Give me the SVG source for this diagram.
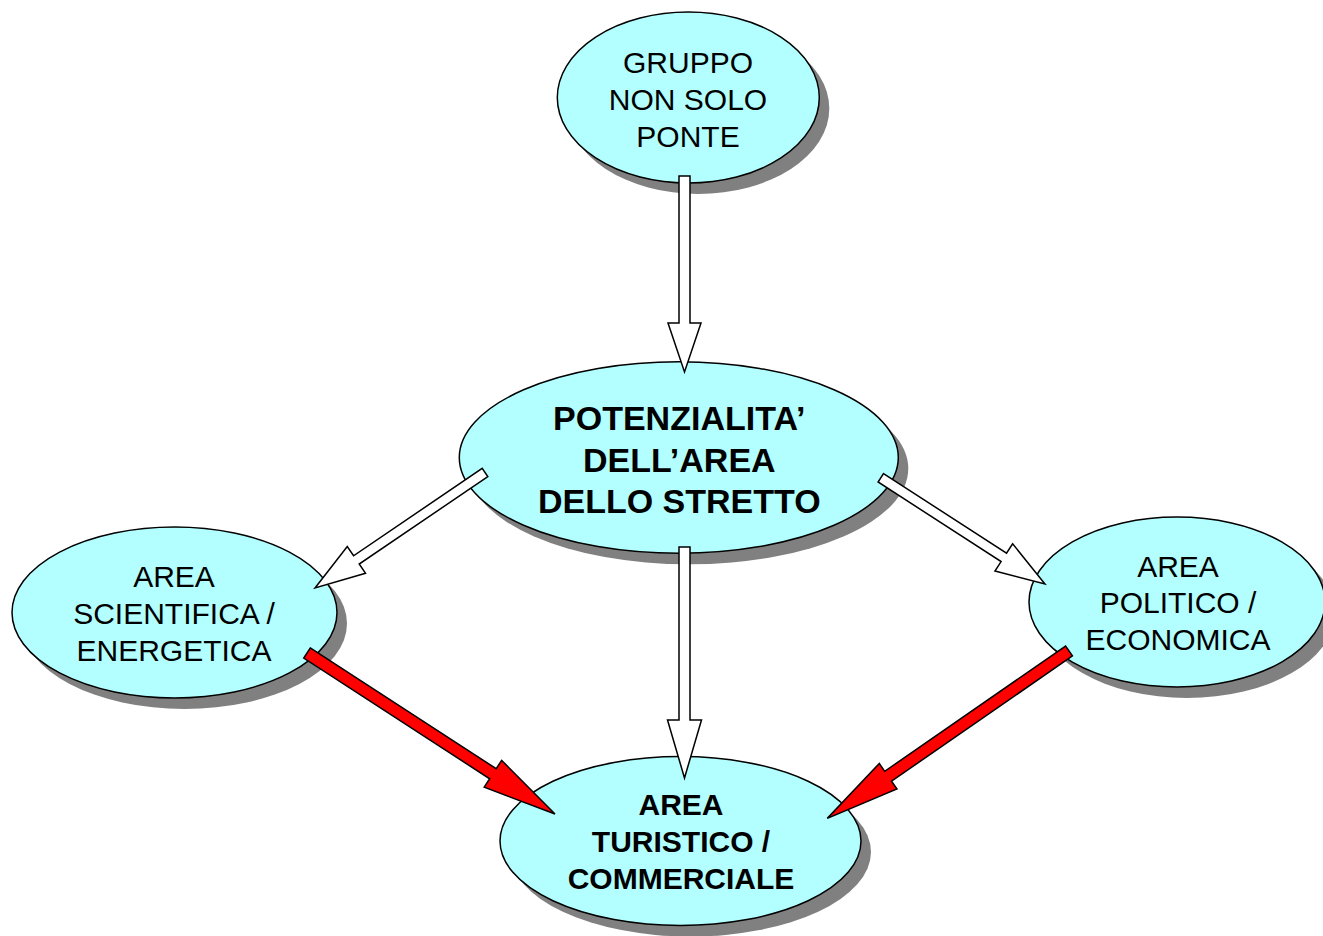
<svg xmlns="http://www.w3.org/2000/svg" width="1323" height="936" viewBox="0 0 1323 936">
<defs>
<style>
.shadow{fill:#808080;stroke:none}
.node{fill:#B3FFFF;stroke:#000;stroke-width:1.5}
.t{font-family:"Liberation Sans",Arial,sans-serif;font-size:30px;fill:#000;text-anchor:middle}
.b{font-weight:bold}
.hollow{fill:#fff;stroke:#000;stroke-width:1.5;stroke-linejoin:miter}
.red{fill:#f00;stroke:#000;stroke-width:1.5;stroke-linejoin:miter}
</style>
</defs>
<rect width="1323" height="936" fill="#fff"/>
<g id="node-gruppo">
<ellipse class="shadow" cx="698.3" cy="108.5" rx="131" ry="85.5"/>
<ellipse class="node" cx="688.3" cy="97.5" rx="131" ry="85.5"/>
<text class="t" x="688" y="73">GRUPPO</text>
<text class="t" x="688" y="110">NON SOLO</text>
<text class="t" x="688" y="147">PONTE</text>
</g>
<g id="node-potenzialita">
<ellipse class="shadow" cx="688.8" cy="468.5" rx="219.5" ry="95.8"/>
<ellipse class="node" cx="678.8" cy="457.5" rx="219.5" ry="95.8"/>
<text class="t b" style="font-size:34px" x="679.3" y="430">POTENZIALITA’</text>
<text class="t b" style="font-size:34px" x="679.3" y="471.7">DELL’AREA</text>
<text class="t b" style="font-size:34px" x="679.3" y="513.3">DELLO STRETTO</text>
</g>
<g id="node-scientifica">
<ellipse class="shadow" cx="184.5" cy="623.5" rx="162.5" ry="85.5"/>
<ellipse class="node" cx="174.5" cy="612.5" rx="162.5" ry="85.5"/>
<text class="t" x="174" y="587">AREA</text>
<text class="t" x="174" y="624">SCIENTIFICA /</text>
<text class="t" x="174" y="661">ENERGETICA</text>
</g>
<g id="node-politico">
<ellipse class="shadow" cx="1187" cy="613" rx="148" ry="85"/>
<ellipse class="node" cx="1177" cy="602" rx="148" ry="85"/>
<text class="t" x="1178" y="577">AREA</text>
<text class="t" x="1178" y="613">POLITICO /</text>
<text class="t" x="1178" y="650">ECONOMICA</text>
</g>
<g id="node-turistico">
<ellipse class="shadow" cx="690.5" cy="852" rx="180.5" ry="84.5"/>
<ellipse class="node" cx="680.5" cy="841" rx="180.5" ry="84.5"/>
<text class="t b" x="681" y="815">AREA</text>
<text class="t b" x="681" y="852">TURISTICO /</text>
<text class="t b" x="681" y="889">COMMERCIALE</text>
</g>
<g id="connectors">
<polygon class="hollow" transform="translate(684.5,176) rotate(90)" points="0,-5.5 147,-5.5 147,-16.5 196,0 147,16.5 147,5.5 0,5.5"/>
<polygon class="hollow" transform="translate(684.5,547) rotate(90)" points="0,-5.5 173,-5.5 173,-17 231,0 173,17 173,5.5 0,5.5"/>
<polygon class="hollow" transform="translate(485,472.5) rotate(145.8)" points="0,-5 155.5,-5 155.5,-16.25 205.5,0 155.5,16.25 155.5,5 0,5"/>
<polygon class="hollow" transform="translate(880.8,477.8) rotate(32.9)" points="0,-5 146.5,-5 146.5,-16.25 195.5,0 146.5,16.25 146.5,5 0,5"/>
<polygon class="red" transform="translate(307,653) rotate(33)" points="0,-6 221.7,-6 221.7,-16 295.7,0 221.7,16 221.7,6 0,6"/>
<polygon class="red" transform="translate(1069,651) rotate(145.3)" points="0,-6 220,-6 220,-15.5 294,0 220,15.5 220,6 0,6"/>
</g>
</svg>
